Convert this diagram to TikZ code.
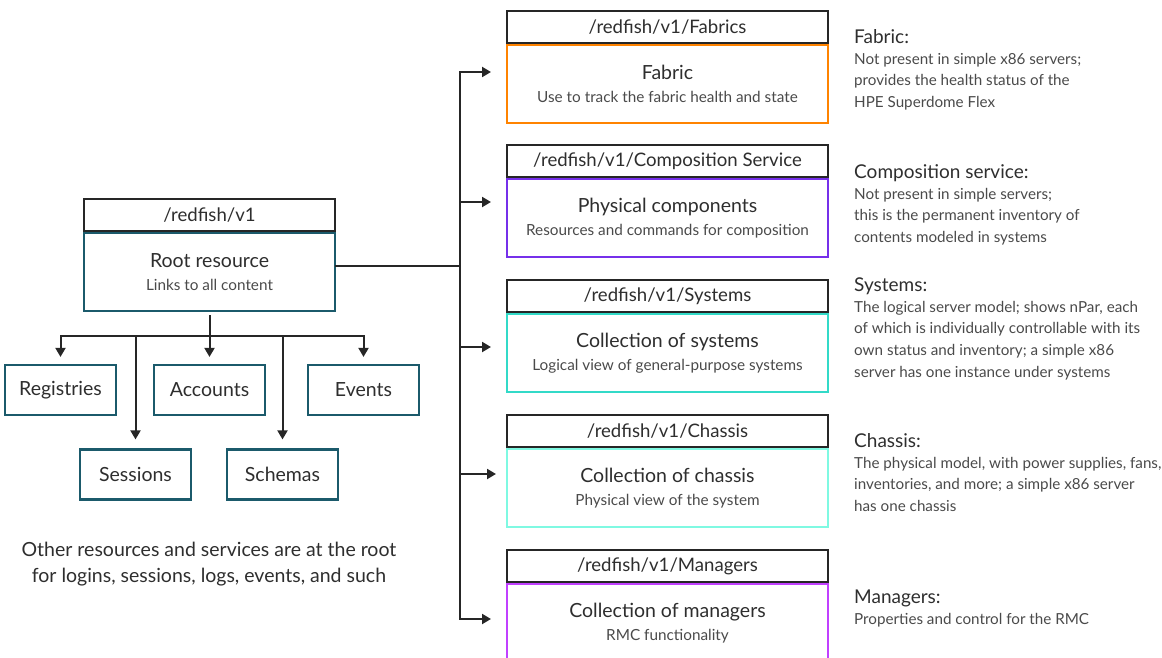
\documentclass[tikz,border=0pt]{standalone}
\usepackage{fontspec}
\setmainfont{Lato}
\usetikzlibrary{arrows.meta,positioning}
\definecolor{inktext}{HTML}{2E2E2E}
\definecolor{subtext}{HTML}{4A4A4A}
\definecolor{linkblk}{HTML}{262626}
\definecolor{roottone}{HTML}{1B5A6B}
\definecolor{fabtone}{HTML}{FF8300}
\definecolor{comptone}{HTML}{7630EA}
\definecolor{systone}{HTML}{32DAC8}
\definecolor{chastone}{HTML}{7FF9E2}
\definecolor{mgrtone}{HTML}{C140FF}
\newcommand{\subln}[1]{{\fontsize{15.3}{18}\selectfont\color{subtext}#1}}
\tikzset{
  pathhdr/.style={draw=linkblk, fill=white, line width=2pt, minimum height=32pt, inner sep=0pt, font=\fontsize{18.6}{22}\selectfont, text=inktext, anchor=south},
  resbody/.style={draw, line width=2pt, minimum height=78pt, inner sep=0pt, align=center, font=\fontsize{19.5}{22.5}\selectfont, text=inktext, anchor=north},
  wide/.style={minimum width=321pt},
  leaf/.style={draw=roottone, line width=2.2pt, minimum width=111pt, minimum height=50pt, inner sep=0pt, font=\fontsize{19.5}{22}\selectfont, text=inktext},
  link/.style={draw=linkblk, line width=2pt, line cap=rect},
  linkarr/.style={link, -{Triangle[length=9pt, width=10pt]}},
  notehd/.style={anchor=west, inner sep=0pt, text height=13pt, text depth=4pt, font=\fontsize{19}{22}\selectfont, text=inktext},
  notetx/.style={anchor=north west, inner sep=0pt, align=left, yshift=-5pt, font=\fontsize{15.2}{21.7}\selectfont, text=subtext},
  aside/.style={inner sep=0pt, align=center, font=\fontsize{19.5}{26}\selectfont, text=inktext},
}

\begin{document}
\begin{tikzpicture}[x=1pt,y=-1pt]
  \useasboundingbox (0,0) rectangle (1162,658);

  % root and its children
  \node[resbody, draw=roottone, minimum width=251pt] (root) at (209.5,232) {Root resource\\\subln{Links to all content}};
  \node[pathhdr, minimum width=251pt] (rooth) at (root.north) {/redfish/v1};
  \node[leaf] (regs) at (60.5,390) {Registries};
  \node[leaf] (accts) at (209.5,390) {Accounts};
  \node[leaf] (events) at (363.5,390) {Events};
  \node[leaf] (sess) at (135.5,474.5) {Sessions};
  \node[leaf] (schem) at (282.5,474.5) {Schemas};
  \coordinate (bus) at (209.5,336);
  \draw[linkarr, shorten <=4pt, shorten >=7pt] (root.south) -- (accts.north);
  \draw[link] (regs.north |- bus) -- (events.north |- bus);
  \draw[linkarr, shorten >=7pt] (regs.north |- bus) -- (regs.north);
  \draw[linkarr, shorten >=7pt] (events.north |- bus) -- (events.north);
  \draw[linkarr, shorten >=9pt] (sess.north |- bus) -- (sess.north);
  \draw[linkarr, shorten >=9pt] (schem.north |- bus) -- (schem.north);
  \node[aside] (rootnote) at (209,564) {Other resources and services are at the root\\for logins, sessions, logs, events, and such};

  % collections
  \node[resbody, wide, draw=fabtone] (fab) at (667.5,44) {Fabric\\\subln{Use to track the fabric health and state}};
  \node[pathhdr, wide] (fabh) at (fab.north) {/redfish/v1/Fabrics};
  \node[resbody, wide, draw=comptone] (comp) at (667.5,178) {Physical components\\\subln{Resources and commands for composition}};
  \node[pathhdr, wide] (comph) at (comp.north) {/redfish/v1/Composition Service};
  \node[resbody, wide, draw=systone] (sys) at (667.5,313) {Collection of systems\\\subln{Logical view of general-purpose systems}};
  \node[pathhdr, wide] (sysh) at (sys.north) {/redfish/v1/Systems};
  \node[resbody, wide, draw=chastone] (chas) at (667.5,448) {Collection of chassis\\\subln{Physical view of the system}};
  \node[pathhdr, wide] (chash) at (chas.north) {/redfish/v1/Chassis};
  \node[resbody, wide, draw=mgrtone] (mgr) at (667.5,583) {Collection of managers\\\subln{RMC functionality}};
  \node[pathhdr, wide] (mgrh) at (mgr.north) {/redfish/v1/Managers};

  % trunk
  \coordinate (tmid) at (460,266);
  \coordinate (tfab) at (460,72);
  \coordinate (tcomp) at (460,202);
  \coordinate (tsys) at (460,347);
  \coordinate (tchas) at (460,474);
  \coordinate (tmgr) at (460,619);
  \draw[link] (root.east |- tmid) -- (tmid);
  \draw[link] (tfab) -- (tmgr);
  \draw[linkarr, shorten >=15pt] (tfab) -- (fab.west |- tfab);
  \draw[linkarr, shorten >=15pt] (tcomp) -- (comp.west |- tcomp);
  \draw[linkarr, shorten >=15pt] (tsys) -- (sys.west |- tsys);
  \draw[linkarr, shorten >=10pt] (tchas) -- (chas.west |- tchas);
  \draw[linkarr, shorten >=15pt] (tmgr) -- (mgr.west |- tmgr);

  % notes
  \node[notehd] (fabhd) at (854,39) {Fabric:};
  \node[notetx] (fabtx) at (fabhd.south west) {Not present in simple x86 servers;\\provides the health status of the\\HPE Superdome Flex};
  \node[notehd] (comphd) at (854,174) {Composition service:};
  \node[notetx] (comptx) at (comphd.south west) {Not present in simple servers;\\this is the permanent inventory of\\contents modeled in systems};
  \node[notehd] (syshd) at (854,287) {Systems:};
  \node[notetx] (systx) at (syshd.south west) {The logical server model; shows nPar, each\\of which is individually controllable with its\\own status and inventory; a simple x86\\server has one instance under systems};
  \node[notehd] (chashd) at (854,443) {Chassis:};
  \node[notetx] (chastx) at (chashd.south west) {The physical model, with power supplies, fans,\\inventories, and more; a simple x86 server\\has one chassis};
  \node[notehd] (mgrhd) at (854,599) {Managers:};
  \node[notetx] (mgrtx) at (mgrhd.south west) {Properties and control for the RMC};
\end{tikzpicture}
\end{document}
